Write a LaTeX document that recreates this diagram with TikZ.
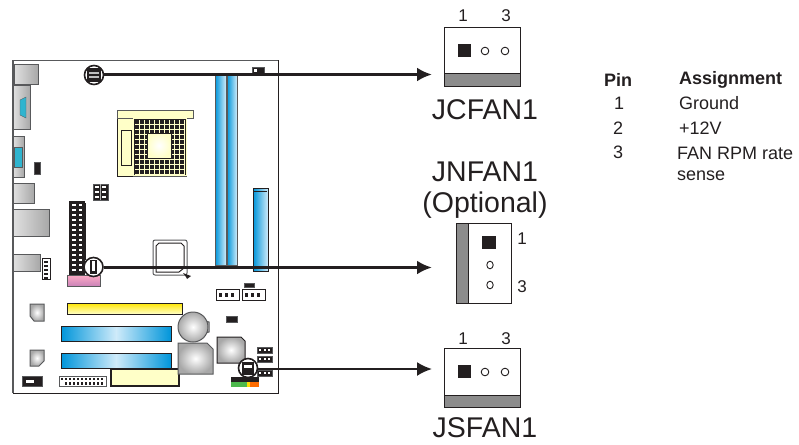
\documentclass[tikz,border=0pt]{standalone}
\usepackage{fontspec}
\setmainfont{Liberation Sans}
\usepackage{xcolor}
\usetikzlibrary{arrows.meta,positioning}
\definecolor{inkcol}{HTML}{231F20}
\definecolor{bandcol}{HTML}{8C8C8C}
\definecolor{edgecol}{HTML}{58595B}
\definecolor{slotblue}{HTML}{0095DA}
\definecolor{paleblue}{HTML}{CFEBFA}
\definecolor{paleyel}{HTML}{FFFFC8}
\definecolor{chipgray}{HTML}{A8A8A8}
\definecolor{portcyan}{HTML}{2FB4CF}

\begin{document}
\begin{tikzpicture}[
  x=1pt, y=-1pt,
  fanbody/.style={draw=inkcol, line width=1pt, fill=white, inner sep=0pt},
  fanband/.style={draw=inkcol, line width=1pt, fill=bandcol},
  pinone/.style={fill=inkcol},
  pinhole/.style={draw=inkcol, line width=0.9pt, fill=white},
  bignum/.style={font=\fontsize{17}{17}\selectfont, text=inkcol, inner sep=0pt},
  biglabel/.style={font=\fontsize{28.5}{28.5}\selectfont, text=inkcol, inner sep=0pt},
  cell/.style={font=\fontsize{18}{18}\selectfont, text=inkcol, inner sep=0pt, anchor=west},
  headcell/.style={cell, font=\fontsize{18}{18}\selectfont\bfseries},
  gray port/.style={draw=edgecol, line width=1pt, left color=white!88!black, right color=chipgray},
  blue slot/.style={draw=inkcol, line width=1pt, left color=slotblue, right color=slotblue, middle color=paleblue},
  dimm/.style={draw=edgecol, line width=0.8pt, left color=slotblue, right color=paleblue},
  chip/.style={draw=edgecol, line width=1pt, shading=radial, inner color=white, outer color=chipgray},
  hdr/.style={draw=edgecol, line width=0.5pt, fill=inkcol},
  marker/.style={circle, draw=inkcol, line width=1.6pt, fill=white, minimum size=19pt, inner sep=0pt},
  feed/.style={-{Latex[length=15pt,width=14pt]}, inkcol}]
  \useasboundingbox (0,0) rectangle (799,444);

  % board outline
  \draw[edgecol, line width=1pt] (13,60) -- (278,60);
  \draw[inkcol, line width=1pt] (278,60) -- (278,393) -- (13,393);
  \draw[edgecol, line width=1.2pt] (13,393) -- (13,60);

  % rear ports
  \draw[gray port] (14,64) rectangle (38,84);
  \draw[gray port] (13,85) rectangle (30,129);
  \draw[draw=edgecol, fill=portcyan] (20,100) -- (26,97) -- (26,118) -- (20,115) -- cycle;
  \draw[gray port] (13,136) rectangle (24,177);
  \draw[draw=edgecol, fill=portcyan] (14,147) rectangle (22,167);
  \draw[hdr] (34,162) rectangle (40,174);
  \draw[gray port] (13,183) rectangle (34,203);
  \draw[gray port] (13,209) rectangle (49,236);
  \draw[gray port] (13,254) rectangle (40,271);
  \draw[draw=inkcol, fill=white] (42,258) rectangle (50,279);
  \foreach \y in {261,265,...,277} \fill[inkcol] (44,\y) rectangle (48,\y+2);

  % cpu socket
  \draw[draw=inkcol, fill=paleyel, line width=0.8pt] (117,118) rectangle (133,176);
  \draw[draw=inkcol, fill=paleyel, line width=0.8pt] (121,130) rectangle (131,165);
  \draw[draw=edgecol, fill=paleyel, line width=1pt] (117,110) rectangle (193,118);
  \fill[paleyel] (133,118) rectangle (187,176);
  \fill[inkcol] (134,119) rectangle (186,175);
  \foreach \x in {139,144,...,184} \draw[paleyel, line width=0.8pt] (\x,120) -- (\x,174);
  \foreach \y in {124,129,...,174} \draw[paleyel, line width=0.8pt] (135,\y) -- (185,\y);
  \draw[draw=inkcol, shading=radial, inner color=white, outer color=paleyel] (147,133) rectangle (171,158);
  \draw[edgecol, line width=1pt] (133,176) -- (187,176);

  % memory and pci express
  \draw[dimm] (215,73) rectangle (226,265);
  \draw[dimm] (227,73) rectangle (237,265);
  \draw[hdr] (252,67) rectangle (264,73);
  \fill[white] (254,68.5) rectangle (257,71.5);
  \draw[draw=inkcol, line width=1pt, left color=slotblue, right color=paleblue] (253,188) rectangle (268,271);
  \draw[inkcol, line width=1pt] (254,191) -- (267,191);

  % ide and headers
  \fill[inkcol] (69,201) rectangle (85,275);
  \foreach \y in {204,209,...,270} {
    \fill[white] (72,\y) rectangle (76,\y+2);
    \fill[white] (79,\y) rectangle (82,\y+2);
  }
  \draw[inkcol, line width=1pt] (85,203) -- (85,260);
  \draw[draw=edgecol, line width=0.8pt, bottom color=violet!60!pink!70, top color=pink!90!magenta] (67,275) rectangle (100,286);
  \draw[hdr, draw=edgecol] (93,184) rectangle (108,200);
  \foreach \x in {95,102} \foreach \y in {186,191,196} \fill[white] (\x,\y) rectangle (\x+4,\y+2);
  \fill[chipgray] (100,184) rectangle (101,200);

  % north bridge
  \draw[draw=edgecol, line width=1pt, fill=white, rounded corners=2pt] (153,240) rectangle (187,275);
  \draw[inkcol, line width=1pt] (156,272) -- (156,246) -- (159,243) -- (181,243) -- (184,246) -- (184,268) -- (179,272) -- (160,272) -- cycle;
  \fill[inkcol] (183,273) -- (191,276) -- (187,279) -- (186,277) -- cycle;

  % expansion slots
  \draw[draw=inkcol, line width=1pt, top color=yellow!80!orange, bottom color=paleyel] (67,303) rectangle (182,314);
  \draw[blue slot] (61,326) rectangle (171,341);
  \draw[blue slot] (61,353) rectangle (171,368);
  \draw[chip] (30,304) -- (44,304) -- (44,321) -- (34,321) -- (30,316) -- cycle;
  \draw[chip] (30,350) -- (44,350) -- (44,361) -- (39,366) -- (30,366) -- cycle;
  \draw[hdr] (22,376) rectangle (42,386);
  \fill[white] (26,380) rectangle (34,383);
  \draw[draw=edgecol, line width=0.8pt, fill=white] (59,376) rectangle (106,386);
  \foreach \x in {61,65,...,101} \fill[inkcol] (\x,377.5) rectangle (\x+2,380);
  \foreach \x in {65,69,...,101} \fill[inkcol] (\x,382) rectangle (\x+2,384.5);
  \draw[draw=inkcol, line width=1.2pt, fill=paleyel] (111,369) rectangle (179,386);

  % battery and chips
  \draw[chip] (205,321) -- (209,322) -- (209,332) -- (205,333) -- cycle;
  \draw[chip] (193,327) circle (15);
  \draw[chip] (178,343) -- (207,343) -- (213,349) -- (213,374) -- (178,374) -- cycle;
  \draw[chip, draw=inkcol] (217,337) -- (241,337) -- (245,341) -- (245,363) -- (217,363) -- cycle;
  \draw[hdr] (226,316) rectangle (237,322);
  \draw[hdr] (244,283) rectangle (254,287);
  \foreach \x in {216,242} {
    \draw[draw=inkcol, line width=1pt, fill=white] (\x,289) rectangle (\x+23,300);
    \foreach \k in {3,9,15} \fill[inkcol] (\x+\k,293) rectangle (\x+\k+3,297);
  }
  \foreach \y in {347,356,370} {
    \draw[hdr] (257,\y) rectangle (272,\y+6);
    \foreach \k in {2,7,11} \fill[white] (257+\k,\y+2) rectangle (257+\k+2,\y+4);
  }

  % audio jacks
  \fill[inkcol] (231,377) rectangle (259,382);
  \fill[green!60!black!70] (231,382) rectangle (247,387);
  \fill[yellow!80!orange] (247,382) rectangle (250,387);
  \fill[orange!85!red] (250,382) rectangle (259,387);

  % markers on the board
  \node[marker] (jcmark) at (94,75) {};
  \fill[inkcol] (87,68) rectangle (101,82);
  \fill[white!75!black] (89,72) rectangle (99,74);
  \fill[white!75!black] (89,76) rectangle (99,78);
  \node[marker] (jnmark) at (93.5,267) {};
  \fill[inkcol] (90,260) rectangle (97,274);
  \fill[white] (92,261) rectangle (95,271);
  \node[marker] (jsmark) at (248,368) {};
  \fill[inkcol] (242,362) rectangle (254,375);
  \fill[white] (244,365) rectangle (252,368);

  % JCFAN1
  \node[fanbody, minimum width=76pt, minimum height=58pt] (jcbox) at (482,57) {};
  \draw[fanband] (444,73) rectangle (520,86);
  \fill[pinone] (458,44) rectangle (471,57);
  \foreach \x in {485,505} \draw[pinhole] (\x,51) circle (3.8);
  \node[bignum] (jcone) at (463,16) {1};
  \node[bignum] (jcthree) at (506,16) {3};
  \node[biglabel] (jcname) at (485,110) {JCFAN1};

  % JNFAN1
  \node[biglabel] (jnname) at (485,172) {JNFAN1};
  \node[biglabel, below=33pt of jnname.center, anchor=center] (jnopt) {(Optional)};
  \node[fanbody, minimum width=55pt, minimum height=80pt] (jnbox) at (483.5,263) {};
  \draw[fanband] (456,223) rectangle (468,303);
  \fill[pinone] (482,236) rectangle (496,249);
  \foreach \y in {265,285} \draw[pinhole] (490,\y) ellipse (3.2 and 3.8);
  \node[bignum] (jnone) at (522,239) {1};
  \node[bignum] (jnthree) at (522,287) {3};

  % JSFAN1
  \node[fanbody, minimum width=76pt, minimum height=59pt] (jsbox) at (482,377.5) {};
  \draw[fanband] (444,395) rectangle (520,407);
  \fill[pinone] (458,365) rectangle (471,378);
  \foreach \x in {485,505} \draw[pinhole] (\x,372) circle (3.8);
  \node[bignum] (jsone) at (463,339) {1};
  \node[bignum] (jsthree) at (506,339) {3};
  \node[biglabel] (jsname) at (485,428) {JSFAN1};

  % feeds
  \coordinate (jctip) at (432,74.5);
  \coordinate (jntip) at (432,267.5);
  \coordinate (jstip) at (432,369);
  \draw[feed, line width=3pt] (jcmark.east |- jctip) -- (jctip);
  \draw[feed, line width=3pt] (jnmark.east |- jntip) -- (jntip);
  \draw[feed, line width=2pt] (jsmark.east |- jstip) -- (jstip);

  % pin table
  \node[headcell] (pinhead) at (604,80) {Pin};
  \node[headcell] (asghead) at (679,80) {Assignment};
  \node[cell] (pinone) at (614,103) {1};
  \node[cell] (pintwo) at (613,128) {2};
  \node[cell] (pinthree) at (613,152) {3};
  \node[cell] (asgone) at (679,103) {Ground};
  \node[cell] (asgtwo) at (679,128) {+12V};
  \node[cell] (asgthree) at (677,153) {FAN RPM rate};
  \node[cell] (asgfour) at (677,176) {sense};
\end{tikzpicture}
\end{document}
